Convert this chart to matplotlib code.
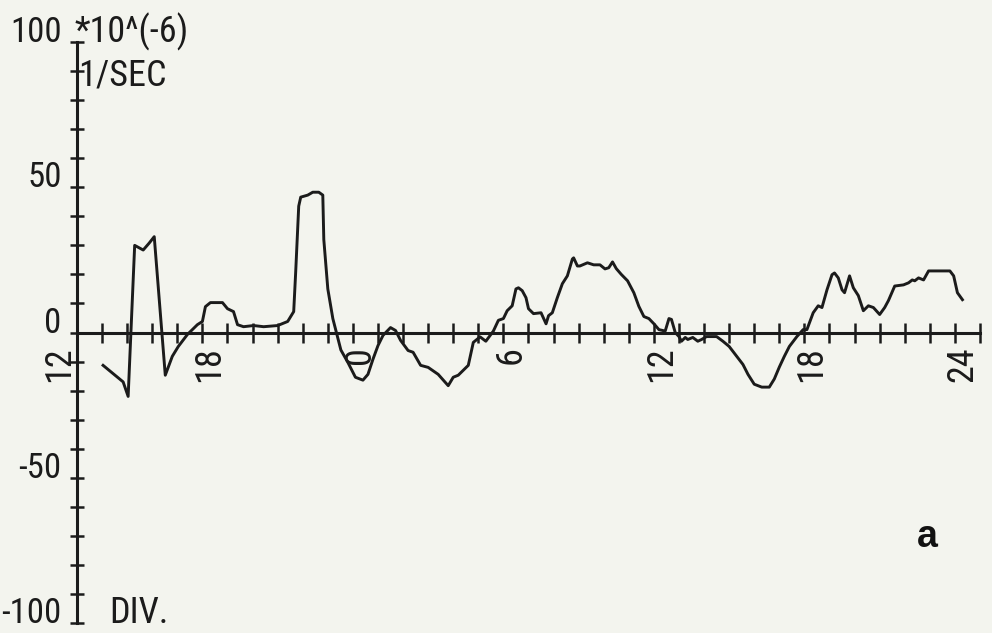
import matplotlib
matplotlib.use("Agg")
import matplotlib.pyplot as plt

# ---- data (hours since 12:00 of day 1, value in 1e-6 1/s) ----
hours = [1.04, 1.84, 2.04, 2.30, 2.64, 2.88, 3.08, 3.52, 3.80, 4.04, 4.40, 4.80,
         5.00, 5.12, 5.32, 5.80, 6.00, 6.24, 6.40, 6.64, 7.04, 7.44, 8.00, 8.40,
         8.64, 8.72, 8.84, 8.92, 9.20, 9.40, 9.64, 9.80, 9.84, 10.00, 10.20, 10.52,
         10.8, 11.1, 11.4, 11.6, 11.8, 12.0, 12.2, 12.5, 12.7, 12.9, 13.2, 13.4,
         13.7, 14.0, 14.4, 14.8, 15.0, 15.2, 15.6, 15.8, 16.07, 16.3, 16.6, 16.8,
         17.0, 17.15, 17.35, 17.5, 17.6, 17.75, 17.9, 18.0, 18.2, 18.5, 18.7, 18.8,
         18.95, 19.15, 19.35, 19.55, 19.75, 19.8, 19.95, 20.05, 20.35, 20.6, 20.85,
         21.05, 21.2, 21.35, 21.5, 21.7, 21.95, 22.2, 22.4, 22.6, 22.8, 23.0, 23.2,
         23.45, 23.6, 23.7, 23.85, 24.0, 24.1, 24.25, 24.35, 24.55, 24.75, 24.9,
         25.1, 25.5, 25.75, 26.0, 26.3, 26.55, 26.75, 27.0, 27.3, 27.6, 27.8, 28.0,
         28.2, 28.4, 28.7, 28.95, 29.1, 29.35, 29.55, 29.7, 29.9, 30.1, 30.2, 30.35,
         30.5, 30.6, 30.8, 30.95, 31.15, 31.35, 31.55, 31.75, 32.0, 32.2, 32.35,
         32.6, 32.95, 33.15, 33.3, 33.4, 33.55, 33.75, 33.95, 34.35, 34.8, 34.95,
         35.1, 35.3]
values = [-11.3, -17.0, -22.0, 30.0, 28.4, 30.8, 33.0, -14.7, -8.2, -4.8, -0.7, 2.7,
          3.8, 8.9, 10.3, 10.3, 8.2, 7.2, 2.7, 2.0, 2.4, 2.0, 2.4, 3.8,
          7.2, 21.0, 43.5, 46.6, 47.3, 48.3, 48.3, 47.3, 32.0, 15.0, 4.8, -6.0,
          -10.3, -15.4, -16.4, -14.4, -9.2, -4.5, -1.0, 1.7, 0.7, -2.7, -6.2, -6.8,
          -11.3, -12.0, -14.4, -18.3, -15.4, -14.7, -11.3, -3.4, -1.5, -3.0, 0.5, 4.2,
          4.8, 7.5, 9.2, 15.0, 15.4, 14.4, 12.0, 8.2, 6.5, 6.8, 3.0, 5.8,
          6.8, 12.0, 16.8, 19.5, 25.3, 25.7, 22.9, 22.9, 24.0, 23.3, 23.3,
          21.9, 22.3, 24.3, 22.0, 20.0, 17.8, 13.7, 9.0, 5.5, 4.8, 3.0, 1.0,
          0.5, 4.8, 4.5, 0.0, -1.4, -3.0, -1.7, -2.4, -1.7, -3.0, -2.4,
          -1.4, -1.4, -3.0, -4.8, -8.2, -11.0, -14.4, -17.8, -18.8, -18.8, -16.0, -11.9,
          -8.2, -4.8, -1.4, 1.0, 1.0, 6.8, 9.2, 8.6, 14.7, 19.9, 20.5, 18.8,
          14.7, 13.7, 19.5, 15.4, 12.7, 7.5, 9.2, 8.6, 6.2, 8.6, 11.0,
          16.0, 16.4, 17.1, 18.1, 17.8, 18.8, 18.1, 21.2, 21.2, 21.2, 19.5,
          13.7, 11.3]

x_ticks = list(range(0, 37))
x_tick_labels = {0: "12", 6: "18", 12: "0", 18: "6", 24: "12", 30: "18", 36: "24"}
y_ticks = list(range(-100, 101, 10))
y_tick_labels = {100: "100", 50: "50", 0: "0", -50: "-50", -100: "-100"}

BG = "#f3f4ee"
INK = "#1b1b1b"
plt.rcParams["font.family"] = ["Roboto Condensed", "Liberation Sans", "DejaVu Sans"]
FS = 26
YFS = 25

fig = plt.figure(figsize=(9.92, 6.33), dpi=100, facecolor=BG)
ax = fig.add_axes([0.0776, 0.0158, 0.9103, 0.9178])
ax.set_facecolor("none")
ax.set_xlim(0, 36)
ax.set_ylim(-100, 100)
for s in ["top", "right"]:
    ax.spines[s].set_visible(False)
for s in ["left", "bottom"]:
    ax.spines[s].set_position(("data", 0))
    ax.spines[s].set_linewidth(2.2)
    ax.spines[s].set_color(INK)

ax.plot(hours, values, color=INK, lw=2.1, clip_on=False, solid_joinstyle="round")

ax.set_xticks(x_ticks)
ax.set_xticklabels([x_tick_labels.get(t, "") for t in x_ticks])
ax.set_yticks(y_ticks)
ax.set_yticklabels([y_tick_labels.get(t, "") for t in y_ticks])
ax.tick_params(axis="x", direction="inout", length=14, width=1.8, pad=3,
               labelsize=FS, colors=INK)
ax.tick_params(axis="y", direction="inout", length=10, width=1.8, pad=6,
               labelsize=YFS, colors=INK)
for lab in ax.get_xticklabels():
    lab.set_rotation(90)
    lab.set_ha("right")
    lab.set_va("top")
for lab in ax.get_yticklabels():
    lab.set_va("baseline")
for t in ax.xaxis.get_major_ticks() + ax.yaxis.get_major_ticks():
    t.tick1line.set_clip_on(False)

ax.text(-0.1, 100, "*10^(-6)", fontsize=FS, color=INK, ha="left", va="baseline")
ax.text(0.05, 85, "1/SEC", fontsize=FS, color=INK, ha="left", va="baseline")
ax.text(1.3, -100, "DIV.", fontsize=FS, color=INK, ha="left", va="baseline")
ax.text(33.5, -73.8, "a", fontsize=27, color="#111111", ha="left", va="baseline",
        family=["Liberation Sans", "DejaVu Sans"], fontweight="bold")

fig.savefig("out.png", dpi=100, facecolor=BG)
